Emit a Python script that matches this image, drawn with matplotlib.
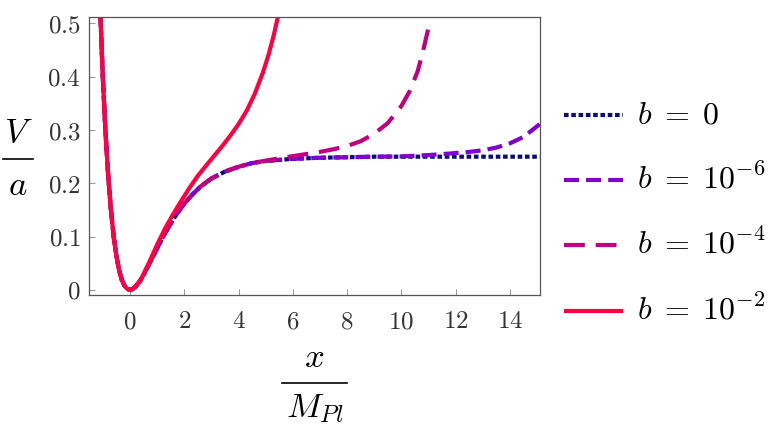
import matplotlib
matplotlib.use("Agg")
import matplotlib.pyplot as plt
from matplotlib.lines import Line2D

plt.rcParams['mathtext.fontset'] = 'cm'
plt.rcParams['font.family'] = ['DejaVu Serif']

# ---------------- data ----------------
x_b0 = [-1.1, -1.0, -0.9, -0.8, -0.7, -0.6, -0.5, -0.4, -0.3, -0.2, -0.1, 0.0,
        0.1, 0.2, 0.3, 0.4, 0.5, 0.6, 0.8, 1.0, 1.2, 1.4, 1.6, 1.8, 2.0, 2.3,
        2.6, 3.0, 3.5, 4.0, 4.5, 5.0, 5.5, 6.0, 7.0, 8.0, 9.0, 10.0, 11.0,
        12.0, 13.0, 14.0, 15.1]
v_b0 = [0.529, 0.398, 0.294, 0.213, 0.149, 0.100, 0.064, 0.037, 0.019, 0.008,
        0.002, 0.000, 0.002, 0.006, 0.012, 0.019, 0.028, 0.038, 0.058, 0.078,
        0.098, 0.116, 0.133, 0.148, 0.162, 0.179, 0.194, 0.209, 0.222, 0.231,
        0.238, 0.242, 0.244, 0.246, 0.248, 0.249, 0.250, 0.250, 0.250, 0.250,
        0.250, 0.250, 0.250]

x_b6 = [-1.1, -1.0, -0.9, -0.8, -0.7, -0.6, -0.5, -0.4, -0.3, -0.2, -0.1, 0.0,
        0.1, 0.2, 0.3, 0.4, 0.5, 0.6, 0.8, 1.0, 1.2, 1.4, 1.6, 1.8, 2.0, 2.3,
        2.6, 3.0, 3.5, 4.0, 4.5, 5.0, 5.5, 6.0, 7.0, 8.0, 9.0, 10.0, 11.0,
        11.8, 12.5, 13.0, 13.5, 14.0, 14.5, 15.1]
v_b6 = [0.529, 0.398, 0.294, 0.213, 0.149, 0.100, 0.064, 0.037, 0.019, 0.008,
        0.002, 0.000, 0.002, 0.006, 0.012, 0.019, 0.028, 0.038, 0.058, 0.078,
        0.098, 0.116, 0.133, 0.148, 0.162, 0.179, 0.194, 0.209, 0.222, 0.231,
        0.238, 0.242, 0.244, 0.246, 0.248, 0.249, 0.250, 0.2505, 0.253,
        0.256, 0.259, 0.262, 0.267, 0.275, 0.287, 0.311]

x_b4 = [-1.1, -1.0, -0.9, -0.8, -0.7, -0.6, -0.5, -0.4, -0.3, -0.2, -0.1, 0.0,
        0.1, 0.2, 0.3, 0.4, 0.5, 0.6, 0.8, 1.0, 1.2, 1.4, 1.6, 1.8, 2.0, 2.3,
        2.6, 3.0, 3.5, 4.0, 4.5, 5.0, 5.5, 6.0, 6.5, 7.0, 7.5, 8.0, 8.5, 9.0,
        9.5, 10.0, 10.3, 10.6, 10.8, 11.0]
v_b4 = [0.529, 0.398, 0.294, 0.213, 0.149, 0.100, 0.064, 0.037, 0.019, 0.008,
        0.002, 0.000, 0.002, 0.006, 0.012, 0.019, 0.028, 0.038, 0.058, 0.078,
        0.098, 0.116, 0.133, 0.148, 0.162, 0.179, 0.194, 0.209, 0.222, 0.231,
        0.238, 0.2425, 0.247, 0.251, 0.255, 0.259, 0.264, 0.270, 0.279, 0.293,
        0.313, 0.345, 0.372, 0.410, 0.448, 0.492]

x_b2 = [-1.1, -1.0, -0.9, -0.8, -0.7, -0.6, -0.5, -0.4, -0.3, -0.2, -0.1, 0.0,
        0.1, 0.2, 0.3, 0.4, 0.5, 0.7, 1.0, 1.3, 1.6, 1.9, 2.2, 2.5, 2.8, 3.1,
        3.4, 3.7, 4.0, 4.3, 4.6, 4.9, 5.1, 5.3, 5.45, 5.5]
v_b2 = [0.529, 0.398, 0.294, 0.213, 0.149, 0.100, 0.064, 0.037, 0.019, 0.008,
        0.002, 0.000, 0.002, 0.006, 0.013, 0.020, 0.030, 0.051, 0.085, 0.116,
        0.143, 0.168, 0.192, 0.214, 0.233, 0.2515, 0.270, 0.2895, 0.311, 0.336,
        0.368, 0.408, 0.440, 0.478, 0.512, 0.525]

labels = [r'$b\;=\;0$', r'$b\;=\;10^{-6}$', r'$b\;=\;10^{-4}$', r'$b\;=\;10^{-2}$']
ylabel_num, ylabel_den = r'$V$', r'$a$'
xlabel_num, xlabel_den = r'$x$', r'$M_{Pl}$'
xticks = [0, 2, 4, 6, 8, 10, 12, 14]
xtick_labels = ['0', '2', '4', '6', '8', '10', '12', '14']
yticks = [0.0, 0.1, 0.2, 0.3, 0.4, 0.5]
ytick_labels = ['0', '0.1', '0.2', '0.3', '0.4', '0.5']

# ---------------- styles ----------------
LW = 3.0
styles = [
    dict(color='#0b0b7d', lw=LW, dashes=(1.1, 0.65)),
    dict(color='#8000d0', lw=LW, dashes=(3.6, 1.7)),
    dict(color='#c0007f', lw=LW, dashes=(5.0, 2.6)),
    dict(color='#ff0040', lw=LW, linestyle='-'),
]

W, H = 780, 428
fig = plt.figure(figsize=(W / 100, H / 100), dpi=100)
L, R, T, B = 89, 540, 17, 295
ax = fig.add_axes([L / W, 1 - B / H, (R - L) / W, (B - T) / H])

series = [(x_b0, v_b0), (x_b6, v_b6), (x_b4, v_b4), (x_b2, v_b2)]
for (xs, vs), st in zip(series, styles):
    ax.plot(xs, vs, solid_capstyle='butt', dash_capstyle='butt',
            solid_joinstyle='round', **st)

ax.set_xlim(-1.51, 15.11)
ax.set_ylim(-0.0094, 0.512)

ax.set_xticks(xticks)
ax.set_xticklabels(['$' + t + '$' for t in xtick_labels])
ax.set_yticks(yticks)
ax.set_yticklabels(['$' + t + '$' for t in ytick_labels])
ax.tick_params(direction='in', length=4, width=0.8, color='#999999',
               labelsize=18, labelcolor='#333333', top=False, right=False)
ax.tick_params(axis='x', pad=11)
ax.tick_params(axis='y', pad=6)
for s in ax.spines.values():
    s.set_color('#555555')
    s.set_linewidth(0.9)


def fx(px):
    return px / W


def fy(py):
    return 1 - py / H


# axis labels drawn as stacked fractions
LFS = 25
fig.text(fx(18), fy(142), ylabel_num, fontsize=LFS, ha='center', va='baseline')
fig.add_artist(Line2D([fx(3), fx(33)], [fy(159), fy(159)],
                      transform=fig.transFigure, color='black', lw=1.2))
fig.text(fx(18), fy(195), ylabel_den, fontsize=LFS, ha='center', va='baseline')

fig.text(fx(314.5), fy(367), xlabel_num, fontsize=LFS, ha='center', va='baseline')
fig.add_artist(Line2D([fx(282), fx(347)], [fy(382.5), fy(382.5)],
                      transform=fig.transFigure, color='black', lw=1.2))
fig.text(fx(314.5), fy(417), xlabel_den, fontsize=LFS, ha='center', va='baseline')

# legend (manual, outside the axes)
rows = [115, 180, 245, 310.7]
for py, st, lab in zip(rows, styles, labels):
    ln = Line2D([fx(564), fx(623)], [fy(py), fy(py)],
                transform=fig.transFigure, solid_capstyle='butt',
                dash_capstyle='butt', **st)
    fig.add_artist(ln)
    fig.text(fx(637), fy(py + 8), lab, fontsize=23, ha='left', va='baseline')

fig.savefig('out.png', dpi=100)
